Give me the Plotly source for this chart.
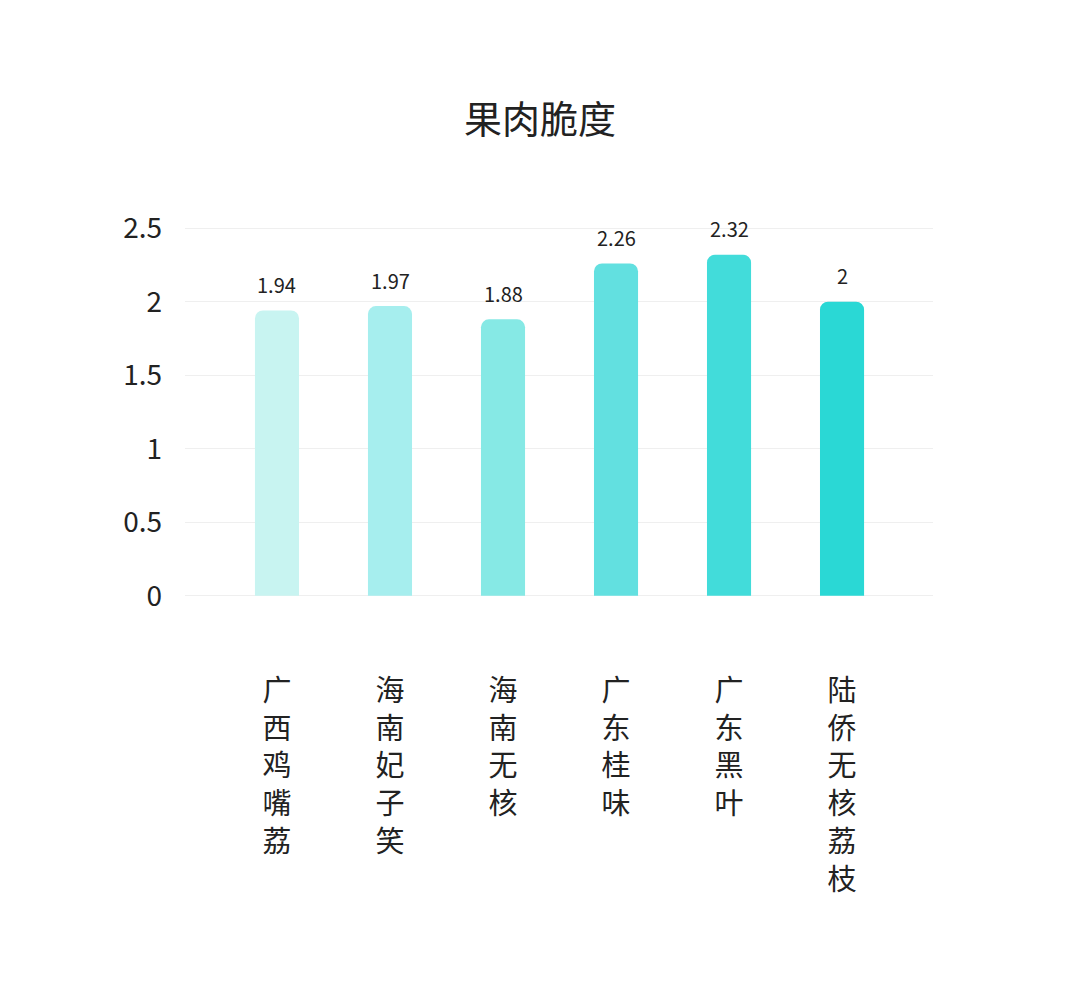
import plotly.graph_objects as go

categories = ["广西鸡嘴荔", "海南妃子笑", "海南无核", "广东桂味", "广东黑叶", "陆侨无核荔枝"]
values = [1.94, 1.97, 1.88, 2.26, 2.32, 2]
value_labels = ["1.94", "1.97", "1.88", "2.26", "2.32", "2"]
bar_colors = ["#c8f4f1", "#a6eeee", "#86e9e5", "#62e0e0", "#42dcda", "#2ad8d5"]
y_ticks = [0, 0.5, 1, 1.5, 2, 2.5]
y_tick_labels = ["0", "0.5", "1", "1.5", "2", "2.5"]
title_text = "果肉脆度"

FONT = "Noto Sans CJK SC"
x_idx = list(range(len(categories)))
vertical_labels = ["<br>".join(list(c)) for c in categories]

fig = go.Figure()
fig.add_trace(go.Bar(
    x=x_idx,
    y=values,
    marker=dict(color=bar_colors, cornerradius=8, line=dict(width=0)),
    width=0.39,
    hoverinfo="skip",
))

for xi, v, t in zip(x_idx, values, value_labels):
    fig.add_annotation(
        x=xi, y=v, text=t, showarrow=False,
        xanchor="center", yanchor="middle", yshift=26,
        font=dict(family=FONT, size=20, color="#222222"),
    )

fig.update_layout(
    width=1080, height=982,
    margin=dict(l=177, r=155, t=219, b=393),
    paper_bgcolor="white", plot_bgcolor="white",
    showlegend=False,
    title=dict(
        text=title_text, x=532 / 1080, xanchor="center", xref="container",
        y=1 - 112 / 982, yanchor="middle", yref="container",
        font=dict(family=FONT, size=38, color="#222222"),
    ),
    xaxis=dict(
        range=[-0.814, 5.805],
        tickmode="array", tickvals=x_idx, ticktext=vertical_labels,
        showgrid=False, zeroline=False, showline=False, ticks="",
        tickfont=dict(family=FONT, size=29, color="#222222"),
        ticklabelstandoff=74,
    ),
    yaxis=dict(
        range=[-0.008, 2.508],
        tickmode="array", tickvals=y_ticks, ticktext=y_tick_labels,
        showgrid=True, gridcolor="#efefef", gridwidth=1,
        zeroline=False, showline=False, ticks="",
        tickfont=dict(family=FONT, size=28, color="#222222"),
        ticklabelstandoff=22,
    ),
)

fig.write_html("out.html")
